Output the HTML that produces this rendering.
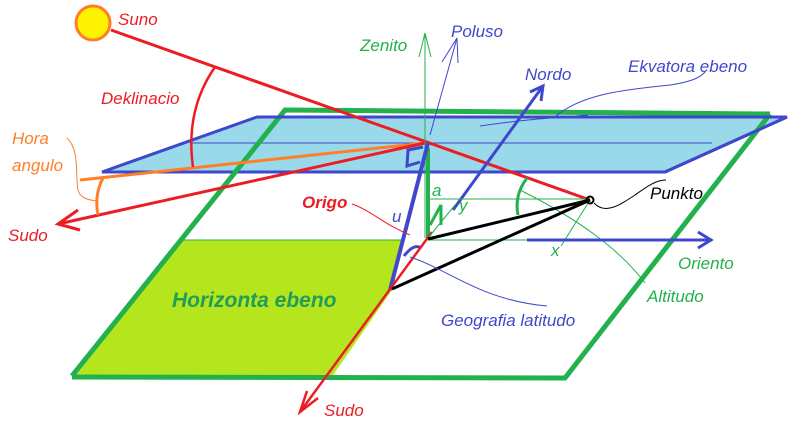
<!DOCTYPE html>
<html><head><meta charset="utf-8"><style>
html,body{margin:0;padding:0;background:#fff;}
svg{display:block;}
</style></head><body>
<svg width="796" height="423" viewBox="0 0 796 423" xmlns="http://www.w3.org/2000/svg">
<polygon points="183,240 404,240 392,290 331,378 74,378" fill="#b5e61d"/>
<line x1="183" y1="240" x2="404" y2="240" stroke="#22b14c" stroke-width="1"/>
<polygon points="102,172 257,117 787,117 665,172" fill="#99d9ea" stroke="#3f48cc" stroke-width="3"/>
<line x1="190" y1="143" x2="712" y2="143" stroke="#3f48cc" stroke-width="1"/>
<polyline points="72,376 285,110 770,114" fill="none" stroke="#22b14c" stroke-width="5"/>
<polyline points="770,114 565,378 72,377" fill="none" stroke="#22b14c" stroke-width="5"/>
<line x1="257" y1="117" x2="787" y2="117" stroke="#3f48cc" stroke-width="3"/>
<line x1="787" y1="117" x2="665" y2="172" stroke="#3f48cc" stroke-width="3"/>
<circle cx="93" cy="23" r="17" fill="#fff200" stroke="#ff7f27" stroke-width="3"/>
<line x1="111" y1="30" x2="590" y2="200" stroke="#ed1c24" stroke-width="3"/>
<line x1="425" y1="143" x2="80" y2="180" stroke="#ff7f27" stroke-width="3"/>
<line x1="425" y1="143" x2="58" y2="224" stroke="#ed1c24" stroke-width="3"/>
<polyline points="78,210 58,224 80,230" fill="none" stroke="#ed1c24" stroke-width="3"/>
<path d="M215,67 Q185,110 193,167" fill="none" stroke="#ed1c24" stroke-width="2.5"/>
<path d="M103,178 Q94,195 98,215" fill="none" stroke="#ff7f27" stroke-width="3"/>
<path d="M67,138 C80,150 75,175 78,190 C80,198 88,200 97,201" fill="none" stroke="#ff7f27" stroke-width="1"/>
<line x1="425" y1="238" x2="425" y2="33" stroke="#22b14c" stroke-width="1"/>
<polyline points="419,57 425,33 431,57" fill="none" stroke="#22b14c" stroke-width="1"/>
<line x1="428" y1="148" x2="428" y2="238" stroke="#22b14c" stroke-width="4"/>
<polyline points="430,225 441,205 441,225" fill="none" stroke="#22b14c" stroke-width="3"/>
<line x1="430" y1="135" x2="457" y2="38" stroke="#3f48cc" stroke-width="1"/>
<line x1="442" y1="62" x2="457" y2="38" stroke="#3f48cc" stroke-width="1"/>
<line x1="458" y1="63" x2="457" y2="38" stroke="#3f48cc" stroke-width="1"/>
<line x1="390" y1="290" x2="428" y2="143" stroke="#3f48cc" stroke-width="4"/>
<polyline points="423,147 408,150 407,166 420,162" fill="none" stroke="#3f48cc" stroke-width="3"/>
<path d="M404,256 Q414,243 421,248" fill="none" stroke="#3f48cc" stroke-width="3"/>
<line x1="453" y1="210" x2="543" y2="86" stroke="#3f48cc" stroke-width="3"/>
<polyline points="530,92 543,86 541,101" fill="none" stroke="#3f48cc" stroke-width="3"/>
<line x1="432" y1="232" x2="300" y2="412" stroke="#ed1c24" stroke-width="2.5"/>
<polyline points="307,391 300,412 318,398" fill="none" stroke="#ed1c24" stroke-width="2.5"/>
<line x1="428" y1="199" x2="590" y2="199" stroke="#22b14c" stroke-width="1"/>
<line x1="428" y1="240" x2="527" y2="240" stroke="#22b14c" stroke-width="1"/>
<line x1="428" y1="238" x2="455" y2="205" stroke="#22b14c" stroke-width="1"/>
<line x1="590" y1="200" x2="561" y2="246" stroke="#22b14c" stroke-width="1"/>
<path d="M520,190 C580,220 620,250 645,283" fill="none" stroke="#22b14c" stroke-width="1"/>
<path d="M527,178 Q514,195 518,215" fill="none" stroke="#22b14c" stroke-width="3"/>
<line x1="527" y1="240" x2="712" y2="240" stroke="#3f48cc" stroke-width="3"/>
<polyline points="698,232 711,240 698,248" fill="none" stroke="#3f48cc" stroke-width="3"/>
<line x1="428" y1="239" x2="590" y2="200" stroke="#000" stroke-width="3"/>
<line x1="392" y1="289" x2="590" y2="200" stroke="#000" stroke-width="3"/>
<circle cx="590" cy="200" r="3.5" fill="none" stroke="#000" stroke-width="2"/>
<path d="M594,203 C605,215 620,205 635,195 C645,188 655,180 666,180" fill="none" stroke="#000" stroke-width="1"/>
<path d="M352,204 C370,210 385,225 410,235" fill="none" stroke="#ed1c24" stroke-width="1"/>
<path d="M410,257 C450,270 480,300 547,306" fill="none" stroke="#3f48cc" stroke-width="1"/>
<path d="M555,117 C580,95 620,90 670,85 C690,82 700,78 705,72" fill="none" stroke="#3f48cc" stroke-width="1"/>
<path d="M480,126 C520,120 550,118 588,115" fill="none" stroke="#3f48cc" stroke-width="1"/>
<g font-family="Liberation Sans, DejaVu Sans, sans-serif" font-style="italic" font-size="17">
<text x="118" y="25" fill="#ed1c24">Suno</text>
<text x="360" y="51" fill="#22b14c">Zenito</text>
<text x="451" y="37" fill="#3f48cc">Poluso</text>
<text x="525" y="80" fill="#3f48cc">Nordo</text>
<text x="628" y="72" fill="#3f48cc">Ekvatora ebeno</text>
<text x="101" y="104" fill="#ed1c24">Deklinacio</text>
<text x="12" y="144" fill="#ff7f27">Hora</text>
<text x="12" y="171" fill="#ff7f27">angulo</text>
<text x="8" y="241" fill="#ed1c24">Sudo</text>
<text x="302" y="208" fill="#ed1c24" font-weight="bold">Origo</text>
<text x="392" y="222" fill="#3f48cc">u</text>
<text x="432" y="196" fill="#22b14c">a</text>
<text x="459" y="211" fill="#22b14c">y</text>
<text x="551" y="256" fill="#22b14c">x</text>
<text x="650" y="199" fill="#000">Punkto</text>
<text x="678" y="269" fill="#22b14c">Oriento</text>
<text x="647" y="302" fill="#22b14c">Altitudo</text>
<text x="441" y="326" fill="#3f48cc">Geografia latitudo</text>
<text x="172" y="307" fill="#1e9e5a" font-weight="bold" font-size="21">Horizonta ebeno</text>
<text x="324" y="416" fill="#ed1c24">Sudo</text>
</g>
</svg>
</body></html>
